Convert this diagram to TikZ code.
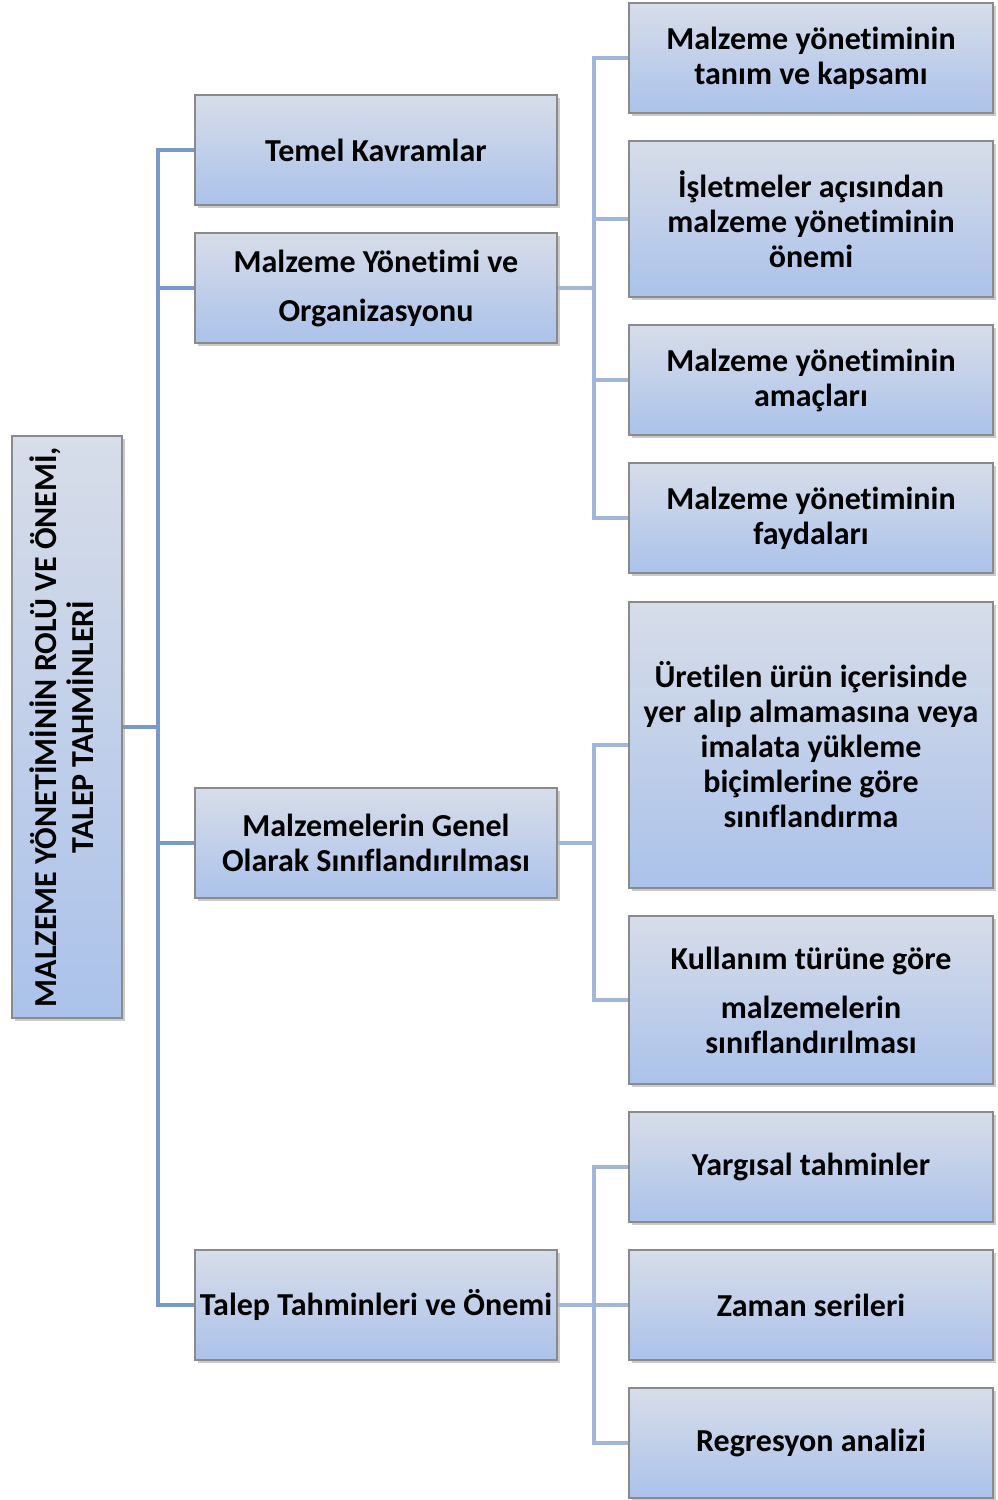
\documentclass[tikz,border=0pt]{standalone}
\usepackage{fontspec}
\setmainfont{Carlito}[Ligatures=NoCommon]
\usepackage{graphicx}
\usetikzlibrary{shadows}
\definecolor{boxtop}{HTML}{D7DDE9}
\definecolor{boxbot}{HTML}{ABC2EA}
\definecolor{boxline}{HTML}{8A8A8A}
\definecolor{mainline}{HTML}{7799CC}
\definecolor{secline}{HTML}{A3B6D8}
\tikzset{
  box/.style={draw=boxline, line width=1.2pt, top color=boxtop, bottom color=boxbot,
    inner sep=0pt, align=center, font=\fontsize{32}{35}\selectfont\bfseries,
    drop shadow={shadow xshift=2.5pt, shadow yshift=-2.5pt, opacity=.35, fill=black!60}},
  lone/.style={box, minimum width=362pt, minimum height=110pt},
  ltwo/.style={box, minimum width=364pt, minimum height=110pt},
  mainconn/.style={draw=mainline, line width=4pt},
  secconn/.style={draw=secline, line width=4pt}
}
\begin{document}
\begin{tikzpicture}[x=1pt,y=-1pt]
\useasboundingbox (0,0) rectangle (998,1500);
% root
\node[box, minimum width=110pt, minimum height=582pt] (root) at (67,727)
  {\rotatebox{90}{\begin{tabular}{@{}c@{}}MALZEME YÖNETİMİNİN ROLÜ VE ÖNEMİ,\\TALEP TAHMİNLERİ\end{tabular}}};
% level 1
\node[lone] (t1) at (376,150) {Temel Kavramlar};
\node[lone] (t2) at (376,288) {Malzeme Yönetimi ve\\[14pt]Organizasyonu};
\node[lone] (t3) at (376,843) {Malzemelerin Genel\\Olarak Sınıflandırılması};
\node[lone] (t4) at (376,1305) {Talep Tahminleri ve Önemi};
% level 2
\node[ltwo] (a) at (811,58) {Malzeme yönetiminin\\tanım ve kapsamı};
\node[ltwo, minimum height=156pt] (b) at (811,219) {İşletmeler açısından\\malzeme yönetiminin\\önemi};
\node[ltwo] (c) at (811,380) {Malzeme yönetiminin\\amaçları};
\node[ltwo] (d) at (811,518) {Malzeme yönetiminin\\faydaları};
\node[ltwo, minimum height=286pt] (e) at (811,745) {Üretilen ürün içerisinde\\yer alıp almamasına veya\\imalata yükleme\\biçimlerine göre\\sınıflandırma};
\node[ltwo, minimum height=168pt] (f) at (811,1000) {Kullanım türüne göre\\[14pt]malzemelerin\\sınıflandırılması};
\node[ltwo] (g) at (811,1167) {Yargısal tahminler};
\node[ltwo] (h) at (811,1305) {Zaman serileri};
\node[ltwo] (i) at (811,1443) {Regresyon analizi};
% trunk coordinates
\coordinate (mt) at (158,0);
\coordinate (st) at (594,0);
% main connectors
\draw[mainconn] (t1.west) -- (t1.west -| mt) -- (t4.west -| mt) -- (t4.west);
\draw[mainconn] (root.east) -- (root.east -| mt);
\draw[mainconn] (t2.west) -- (t2.west -| mt);
\draw[mainconn] (t3.west) -- (t3.west -| mt);
% secondary connectors
\draw[secconn] (a.west) -- (a.west -| st) -- (d.west -| st) -- (d.west);
\draw[secconn] (t2.east) -- (t2.east -| st);
\draw[secconn] (b.west) -- (b.west -| st);
\draw[secconn] (c.west) -- (c.west -| st);
\draw[secconn] (e.west) -- (e.west -| st) -- (f.west -| st) -- (f.west);
\draw[secconn] (t3.east) -- (t3.east -| st);
\draw[secconn] (g.west) -- (g.west -| st) -- (i.west -| st) -- (i.west);
\draw[secconn] (t4.east) -- (t4.east -| st);
\draw[secconn] (h.west) -- (h.west -| st);
\end{tikzpicture}
\end{document}
